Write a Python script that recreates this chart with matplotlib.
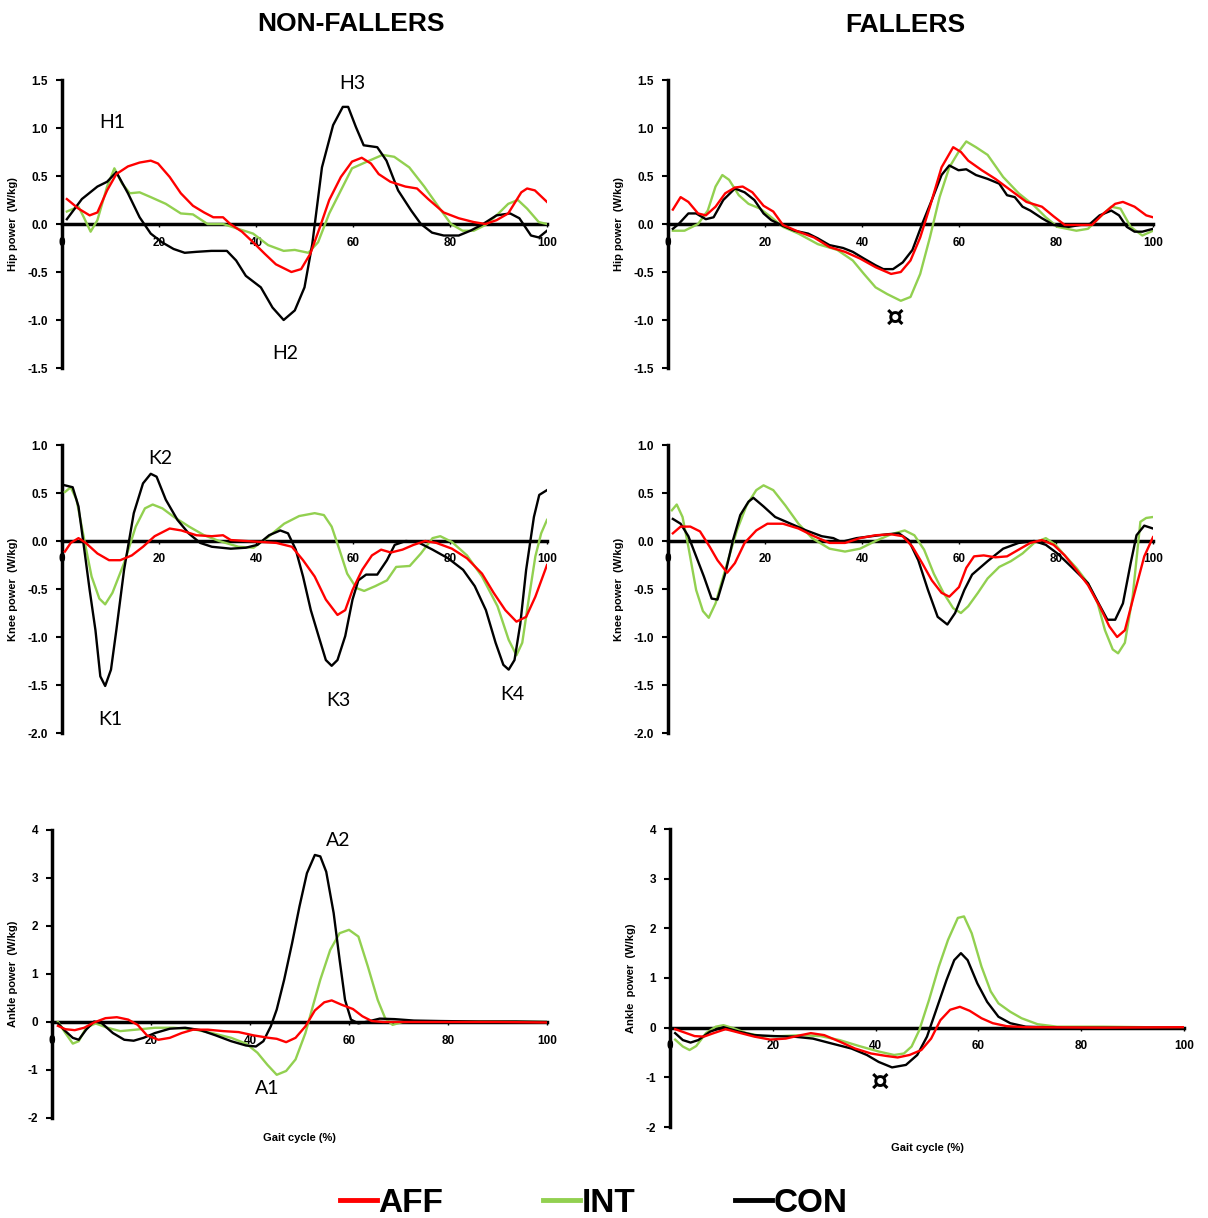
import matplotlib.pyplot as plt
from matplotlib.lines import Line2D

plt.rcParams["font.family"] = ["Liberation Sans", "DejaVu Sans"]

AFF_COLOR = "#FF0000"
INT_COLOR = "#92D050"
CON_COLOR = "#000000"

# ---- Hip power, non-fallers ----
nf_hip_con_x = [1, 4.1, 7.3, 9.3, 11.2, 13.6, 16, 18.3, 20.6, 23, 25.3, 27.7, 30.8, 34, 35.9, 37.9, 41,
                43.4, 45.7, 48, 50, 51.6, 53.6, 55.9, 57.9, 59, 60.6, 62.2, 65, 66.9, 69.3, 72, 74, 76.3,
                78.7, 81.8, 84.2, 86.5, 89.6, 92.4, 94.3, 96.7, 98.3, 100]
nf_hip_con = [0.05, 0.26, 0.39, 0.44, 0.54, 0.32, 0.07, -0.10, -0.19, -0.26, -0.30, -0.29, -0.28, -0.28,
              -0.38, -0.54, -0.66, -0.87, -1.0, -0.90, -0.66, -0.21, 0.59, 1.03, 1.22, 1.22, 1.01, 0.82,
              0.80, 0.66, 0.35, 0.14, 0.0, -0.09, -0.12, -0.12, -0.07, -0.01, 0.09, 0.11, 0.06, -0.12,
              -0.14, -0.07]
nf_hip_aff_x = [1, 3.4, 5.7, 7.3, 9.3, 11.2, 13.6, 16, 18.3, 19.8, 22.2, 24.5, 27, 29.3, 31.2, 33.2, 34.7,
                37.1, 39.4, 41.8, 44.1, 47.3, 49.3, 51.2, 53.2, 55.1, 57.5, 59.8, 61.8, 63.7, 65.3, 67.7,
                70.8, 73.2, 75.5, 78.7, 81.8, 84.9, 87.3, 89.6, 92, 94.7, 95.9, 97.5, 100]
nf_hip_aff = [0.26, 0.16, 0.09, 0.12, 0.35, 0.52, 0.60, 0.64, 0.66, 0.63, 0.49, 0.32, 0.19, 0.12, 0.07,
              0.07, 0.0, -0.08, -0.19, -0.31, -0.42, -0.50, -0.47, -0.31, -0.03, 0.25, 0.49, 0.65, 0.69,
              0.63, 0.52, 0.44, 0.39, 0.37, 0.26, 0.12, 0.06, 0.02, 0.0, 0.04, 0.11, 0.33, 0.37, 0.35, 0.23]
nf_hip_int_x = [1, 3.4, 4.5, 5.9, 7.3, 9.3, 10.8, 12.4, 14, 16, 18.3, 21.4, 24.5, 27, 30, 33.2, 36.3,
                39.4, 42.5, 45.7, 48, 50.8, 52.8, 55.1, 57.5, 59.8, 62.9, 66.1, 68.5, 71.6, 74.7, 77.9,
                80.2, 82.6, 84.9, 87.3, 89.6, 92, 94, 95.9, 98.3, 100]
nf_hip_int = [0.13, 0.18, 0.07, -0.08, 0.04, 0.39, 0.58, 0.42, 0.32, 0.33, 0.28, 0.21, 0.11, 0.10, 0.0,
              0.0, -0.05, -0.10, -0.22, -0.28, -0.27, -0.30, -0.19, 0.11, 0.35, 0.58, 0.65, 0.72, 0.70,
              0.59, 0.39, 0.16, 0.0, -0.07, -0.07, -0.01, 0.09, 0.21, 0.25, 0.16, 0.02, 0.0]

# ---- Hip power, fallers ----
f_hip_con_x = [1, 2.2, 4.2, 5.8, 7.8, 9.4, 11.4, 13.8, 15.8, 17.8, 19.7, 21.3, 23.7, 26.1, 28.9, 30.9,
               33.3, 36.1, 38.1, 40.4, 42.8, 44.4, 46.4, 48.4, 50.4, 52.4, 54.4, 56.4, 58, 59.9, 61.5,
               63.5, 65.9, 68.3, 69.9, 71.5, 73.1, 74.7, 77.1, 79.5, 82.6, 85, 87, 89, 91.4, 93, 94.6,
               96.2, 97.8, 100]
f_hip_con = [-0.05, 0.0, 0.11, 0.11, 0.05, 0.07, 0.25, 0.37, 0.33, 0.25, 0.11, 0.04, -0.02, -0.07, -0.10,
             -0.15, -0.22, -0.25, -0.29, -0.36, -0.43, -0.47, -0.47, -0.40, -0.27, 0.0, 0.25, 0.51, 0.61,
             0.56, 0.57, 0.51, 0.47, 0.42, 0.30, 0.28, 0.18, 0.14, 0.06, -0.01, -0.03, -0.01, 0.0, 0.09,
             0.14, 0.09, -0.03, -0.08, -0.08, -0.05]
f_hip_aff_x = [1, 2.6, 4.2, 6.2, 7.8, 9.8, 11.8, 13.8, 15.4, 17.4, 19.7, 21.7, 23.7, 26.9, 30.1, 33.3,
               36.5, 39.6, 42.8, 46, 48, 50, 52, 54, 56.4, 58.8, 60.4, 61.9, 64.7, 67.5, 70.7, 73.9,
               77.1, 79.5, 81.8, 84.2, 87.4, 89.8, 92.2, 93.8, 96.2, 98.6, 100]
f_hip_aff = [0.15, 0.28, 0.23, 0.11, 0.09, 0.18, 0.32, 0.38, 0.39, 0.33, 0.19, 0.13, -0.01, -0.08, -0.14,
             -0.24, -0.29, -0.36, -0.45, -0.52, -0.50, -0.38, -0.14, 0.18, 0.59, 0.80, 0.75, 0.66, 0.56,
             0.47, 0.35, 0.23, 0.18, 0.08, -0.01, -0.01, -0.01, 0.11, 0.21, 0.23, 0.18, 0.09, 0.07]
f_hip_int_x = [1, 3.4, 6.2, 8.2, 9.8, 11.2, 12.6, 14.6, 16.6, 19, 21.3, 23.7, 26.9, 30.9, 34.9, 38.1,
               40.4, 42.8, 45.2, 48, 50, 52, 54, 56, 58, 59.9, 61.5, 63.5, 65.9, 69.1, 72.3, 75.5, 77.9,
               80.3, 84.2, 86.6, 89, 91.4, 93.3, 95.4, 97.8, 100]
f_hip_int = [-0.07, -0.07, 0.0, 0.14, 0.39, 0.51, 0.46, 0.30, 0.21, 0.16, 0.07, -0.03, -0.10, -0.21,
             -0.27, -0.38, -0.52, -0.66, -0.73, -0.80, -0.76, -0.52, -0.14, 0.28, 0.59, 0.75, 0.86, 0.80,
             0.72, 0.49, 0.32, 0.19, 0.07, -0.03, -0.07, -0.05, 0.07, 0.18, 0.16, -0.03, -0.12, -0.07]

# ---- Knee power, non-fallers ----
nf_knee_con_x = [0.6, 2.2, 3.4, 4.6, 5.7, 6.9, 7.9, 8.9, 10.1, 11.2, 12.8, 14.8, 16.7, 18.3, 19.5, 21.4,
                 23.8, 26.1, 28.5, 30.9, 34.8, 37.9, 40.3, 42.7, 45, 46.6, 48.2, 49.7, 51.3, 52.9, 54.4,
                 55.6, 56.8, 58.4, 59.9, 61.1, 62.7, 65, 67, 68.6, 70.9, 73.3, 76.4, 79.6, 82.7, 85.1,
                 87.4, 89.4, 91, 92.1, 93.3, 94.5, 95.7, 97.3, 98.4, 100]
nf_knee_con = [0.58, 0.56, 0.36, -0.09, -0.51, -0.93, -1.41, -1.51, -1.34, -0.93, -0.30, 0.29, 0.60, 0.70,
               0.67, 0.43, 0.22, 0.08, -0.02, -0.06, -0.08, -0.07, -0.04, 0.06, 0.11, 0.08, -0.09, -0.37,
               -0.72, -0.99, -1.24, -1.30, -1.24, -0.99, -0.61, -0.41, -0.35, -0.35, -0.20, -0.04, 0.0,
               -0.01, -0.09, -0.18, -0.30, -0.47, -0.72, -1.06, -1.29, -1.34, -1.24, -0.86, -0.30, 0.25,
               0.48, 0.53]
nf_knee_aff_x = [0.6, 1.8, 3.4, 4.9, 7.3, 9.7, 12, 14.4, 16.7, 19.1, 22.2, 24.6, 27.7, 30.9, 33.2, 34.8,
                 37.9, 41.1, 44.2, 47.4, 49.7, 52.1, 54.4, 56.8, 58.4, 59.9, 61.9, 63.9, 65.8, 67.8, 70.2,
                 72.5, 74.9, 77.2, 80.4, 83.5, 86.6, 89, 91.4, 93.7, 95.7, 97.6, 100]
nf_knee_aff = [-0.11, -0.02, 0.03, -0.02, -0.13, -0.20, -0.20, -0.15, -0.06, 0.05, 0.13, 0.11, 0.06, 0.05,
               0.06, 0.01, 0.0, -0.01, -0.02, -0.06, -0.20, -0.37, -0.61, -0.77, -0.72, -0.51, -0.30,
               -0.15, -0.09, -0.12, -0.09, -0.04, 0.0, -0.02, -0.08, -0.18, -0.34, -0.54, -0.72, -0.84,
               -0.79, -0.58, -0.25]
nf_knee_int_x = [0.6, 1.8, 3, 4.6, 6.1, 7.7, 8.9, 10.4, 12.8, 15.2, 17.1, 18.7, 20.7, 23.1, 26.2, 29.3,
                 32.4, 36.4, 39.5, 42.7, 45.8, 48.9, 52.1, 54, 55.6, 57.2, 58.8, 60.7, 62.3, 64.6, 67,
                 68.9, 71.7, 74, 76.4, 78, 80.4, 83.5, 86.6, 89.8, 92.1, 93.7, 94.9, 96.1, 97.6, 98.8, 100]
nf_knee_int = [0.51, 0.56, 0.43, 0.01, -0.37, -0.60, -0.66, -0.54, -0.23, 0.15, 0.34, 0.38, 0.34, 0.25,
               0.15, 0.06, 0.0, -0.06, -0.07, 0.05, 0.18, 0.26, 0.29, 0.27, 0.15, -0.09, -0.34, -0.49,
               -0.52, -0.47, -0.41, -0.27, -0.26, -0.13, 0.03, 0.05, -0.01, -0.15, -0.37, -0.68, -1.03,
               -1.19, -1.06, -0.65, -0.16, 0.08, 0.22]

# ---- Knee power, fallers ----
f_knee_con_x = [1, 2.6, 4.2, 5.8, 7.4, 9, 10.2, 11.8, 13.4, 14.9, 16.6, 17.6, 19.7, 22.1, 25.3, 28.5,
                31.7, 34.1, 35.7, 38.9, 42, 45.2, 47.6, 49.6, 51.6, 53.6, 55.6, 57.6, 59.2, 61.1, 62.7,
                65.9, 69.1, 72.3, 75.5, 77.9, 80.3, 83.4, 86.6, 89, 90.6, 92.2, 93.8, 95.4, 96.6, 98.2, 100]
f_knee_con = [0.23, 0.18, 0.05, -0.16, -0.37, -0.60, -0.61, -0.34, 0.01, 0.27, 0.41, 0.45, 0.36, 0.25,
              0.18, 0.11, 0.05, 0.03, -0.01, 0.03, 0.05, 0.07, 0.08, 0.01, -0.20, -0.51, -0.79, -0.87,
              -0.75, -0.51, -0.35, -0.21, -0.08, -0.02, 0.0, -0.04, -0.13, -0.28, -0.44, -0.67, -0.82,
              -0.82, -0.65, -0.23, 0.06, 0.16, 0.13]
f_knee_aff_x = [1, 2.6, 4.6, 6.6, 8.6, 10.2, 12.2, 13.8, 15.8, 18.2, 20.5, 23.7, 26.9, 30.1, 33.3, 36.5,
                39.6, 42.8, 46, 48.4, 50.4, 52.4, 54.4, 56.4, 58, 60, 61.5, 63.1, 65.1, 67.5, 69.9, 72.3,
                74.7, 77.1, 79.5, 81.8, 84.2, 86.6, 89, 91, 92.6, 94.2, 96.2, 98.2, 100]
f_knee_aff = [0.08, 0.15, 0.15, 0.10, -0.06, -0.20, -0.33, -0.23, -0.02, 0.11, 0.18, 0.18, 0.13, 0.05,
              -0.02, -0.02, 0.03, 0.06, 0.07, 0.05, -0.06, -0.23, -0.41, -0.54, -0.58, -0.48, -0.28,
              -0.16, -0.15, -0.17, -0.16, -0.09, -0.02, 0.01, -0.04, -0.15, -0.30, -0.46, -0.68, -0.89,
              -1.00, -0.93, -0.54, -0.16, 0.04]
f_knee_int_x = [0.8, 1.8, 3, 4.2, 5.8, 7.2, 8.4, 9.8, 11.8, 14.2, 16.2, 18.2, 19.7, 21.7, 24.2, 26.9,
                29.7, 33.3, 36.5, 39.6, 42.8, 46, 48.8, 50.8, 52.8, 54.8, 56.8, 58.8, 60.4, 61.9, 63.9,
                65.9, 68.3, 70.7, 73.1, 75.5, 77.9, 79.9, 81.8, 84.2, 86.6, 88.6, 90.1, 91.7, 92.8, 94.2,
                95.8, 97.4, 98.6, 100]
f_knee_int = [0.32, 0.38, 0.25, -0.06, -0.51, -0.73, -0.80, -0.65, -0.30, 0.11, 0.37, 0.53, 0.58, 0.53,
              0.37, 0.18, 0.03, -0.08, -0.11, -0.08, 0.0, 0.07, 0.11, 0.06, -0.09, -0.34, -0.54, -0.70,
              -0.75, -0.68, -0.54, -0.39, -0.27, -0.21, -0.13, -0.02, 0.03, -0.04, -0.15, -0.28, -0.44,
              -0.65, -0.93, -1.13, -1.17, -1.06, -0.58, 0.20, 0.24, 0.25]

# ---- Ankle power, non-fallers ----
nf_ank_con_x = [1.2, 2.7, 4.2, 5.4, 6.9, 8.5, 10, 12.3, 14.6, 16.5, 18.5, 20.8, 23.8, 26.9, 30, 33.1,
                36.2, 39.2, 41.2, 42.7, 44.2, 45.4, 46.9, 48.5, 50, 51.5, 53.1, 54.2, 55.4, 56.9, 58.1,
                59.2, 60.4, 61.9, 63.8, 66.2, 69.2, 73.1, 78.5, 86.2, 93.8, 100]
nf_ank_con = [-0.03, -0.19, -0.33, -0.37, -0.16, 0.01, -0.02, -0.23, -0.37, -0.39, -0.33, -0.23, -0.14,
              -0.12, -0.17, -0.28, -0.40, -0.49, -0.51, -0.40, -0.09, 0.26, 0.88, 1.64, 2.41, 3.10, 3.48,
              3.45, 3.13, 2.27, 1.30, 0.46, 0.05, -0.03, 0.01, 0.07, 0.06, 0.03, 0.02, 0.01, 0.01, 0.0]
nf_ank_aff_x = [1.2, 2.7, 4.6, 6.5, 8.5, 10.8, 13.1, 15.4, 17.3, 19.2, 21.5, 23.8, 26.2, 28.5, 31.5, 34.6,
                37.7, 40.8, 43.8, 45.4, 47.3, 49.2, 51.2, 53.1, 55, 56.5, 58.5, 60.8, 62.7, 64.6, 66.9,
                74.6, 82.3, 90, 100]
nf_ank_aff = [-0.08, -0.15, -0.17, -0.12, -0.01, 0.08, 0.10, 0.05, -0.06, -0.28, -0.37, -0.33, -0.23,
              -0.16, -0.16, -0.19, -0.21, -0.28, -0.33, -0.35, -0.42, -0.33, -0.09, 0.24, 0.41, 0.45,
              0.36, 0.27, 0.12, 0.02, 0.0, 0.0, 0.0, 0.0, -0.01]
nf_ank_int_x = [1.2, 2.7, 4.2, 5.4, 6.9, 8.8, 11.2, 13.8, 16.9, 20.8, 24.6, 28.5, 32.3, 36.2, 39.2, 41.5,
                43.5, 45.4, 47.3, 49.2, 51.2, 52.7, 54.2, 56.2, 58.1, 60, 61.9, 63.8, 65.8, 67.3, 68.8,
                70.8, 74.6, 82.3, 90, 100]
nf_ank_int = [0.0, -0.23, -0.45, -0.40, -0.12, -0.03, -0.12, -0.19, -0.16, -0.12, -0.12, -0.15, -0.23,
              -0.33, -0.45, -0.64, -0.89, -1.10, -1.02, -0.78, -0.23, 0.33, 0.88, 1.50, 1.85, 1.92, 1.78,
              1.16, 0.46, 0.08, -0.06, 0.0, 0.01, 0.01, 0.01, 0.0]

# ---- Ankle power, fallers ----
f_ank_con_x = [1, 2.5, 4, 5.5, 7.8, 10.4, 13.4, 16.4, 20.2, 24, 27.8, 31.5, 35.3, 38.3, 40.6, 43.2, 45.9,
               48.1, 50, 51.9, 53.8, 55.3, 56.6, 57.9, 59.8, 61.7, 63.9, 66.2, 69.2, 76.8, 100]
f_ank_con = [-0.11, -0.25, -0.30, -0.25, -0.08, 0.01, -0.08, -0.15, -0.17, -0.18, -0.22, -0.32, -0.42,
             -0.55, -0.69, -0.80, -0.75, -0.55, -0.18, 0.39, 0.96, 1.36, 1.50, 1.36, 0.89, 0.52, 0.22,
             0.09, 0.02, 0.0, 0.0]
f_ank_aff_x = [1, 2.9, 4.8, 6.6, 8.5, 10.8, 13.4, 16.4, 19.5, 22.5, 25.5, 27.4, 30, 33, 36, 39.1, 42.1,
               44.3, 46.6, 48.9, 50.8, 52.6, 54.5, 56.4, 58.3, 60.6, 62.8, 65.5, 69.2, 84.3, 100]
f_ank_aff = [-0.03, -0.10, -0.17, -0.18, -0.11, -0.03, -0.10, -0.18, -0.24, -0.22, -0.15, -0.11, -0.15,
             -0.28, -0.42, -0.52, -0.57, -0.60, -0.55, -0.45, -0.22, 0.15, 0.36, 0.42, 0.34, 0.19, 0.09,
             0.03, 0.01, 0.0, 0.01]
f_ank_int_x = [1, 2.5, 3.8, 5.1, 7, 8.9, 10.4, 12.3, 14.9, 17.9, 21.7, 25.5, 29.3, 33, 36.8, 40.6, 43.6,
               45.5, 47, 48.5, 50.4, 52.3, 54.1, 56, 57.2, 58.7, 60.6, 62.4, 63.9, 66.2, 68.4, 71.5,
               75.3, 84.3, 100]
f_ank_int = [-0.24, -0.38, -0.45, -0.37, -0.11, 0.02, 0.05, -0.01, -0.11, -0.17, -0.17, -0.15, -0.17,
             -0.25, -0.37, -0.48, -0.55, -0.52, -0.38, -0.05, 0.56, 1.23, 1.77, 2.21, 2.24, 1.90, 1.23,
             0.73, 0.49, 0.32, 0.19, 0.07, 0.02, 0.02, 0.0]

x_ticks = [0, 20, 40, 60, 80, 100]
hip_ticks = [-1.5, -1.0, -0.5, 0.0, 0.5, 1.0, 1.5]
knee_ticks = [-2.0, -1.5, -1.0, -0.5, 0.0, 0.5, 1.0]
ankle_ticks = [-2, -1, 0, 1, 2, 3, 4]

W, H = 1208, 1218
fig = plt.figure(figsize=(W / 100, H / 100), dpi=100)


def make_axes(left, right, top, bottom):
    # pixel box -> figure fraction
    return fig.add_axes([left / W, 1 - bottom / H, (right - left) / W, (bottom - top) / H])


def style_axes(ax, yticks, fmt, ylabel, label_x):
    ax.set_xlim(0, 100)
    ax.set_ylim(yticks[0], yticks[-1])
    for side in ("top", "right"):
        ax.spines[side].set_visible(False)
    ax.spines["left"].set_linewidth(2.5)
    ax.spines["bottom"].set_position(("data", 0))
    ax.spines["bottom"].set_linewidth(2.5)
    ax.spines["bottom"].set_zorder(1)
    ax.set_xticks(x_ticks)
    ax.set_yticks(yticks)
    ax.set_yticklabels([fmt.format(v) for v in yticks])
    ax.tick_params(axis="y", direction="out", length=4, width=1.5, pad=6,
                   labelsize=8.5)
    ax.tick_params(axis="x", direction="out", length=2, width=1, pad=7,
                   labelsize=8.5)
    for lab in ax.get_xticklabels() + ax.get_yticklabels():
        lab.set_fontweight("bold")
    ax.set_ylabel(ylabel, fontsize=8, fontweight="bold")
    ax.yaxis.set_label_coords(label_x, 0.5)


def draw(ax, series):
    for xs, ys, color in series:
        ax.plot(xs, ys, color=color, lw=1.7, zorder=3, solid_joinstyle="round")


ax1 = make_axes(62, 547, 80, 368)
draw(ax1, [(nf_hip_int_x, nf_hip_int, INT_COLOR), (nf_hip_con_x, nf_hip_con, CON_COLOR),
           (nf_hip_aff_x, nf_hip_aff, AFF_COLOR)])
style_axes(ax1, hip_ticks, "{:.1f}", "Hip power  (W/kg)", -0.091)

ax2 = make_axes(668, 1153, 80, 368)
draw(ax2, [(f_hip_int_x, f_hip_int, INT_COLOR), (f_hip_con_x, f_hip_con, CON_COLOR),
           (f_hip_aff_x, f_hip_aff, AFF_COLOR)])
style_axes(ax2, hip_ticks, "{:.1f}", "Hip power  (W/kg)", -0.091)

ax3 = make_axes(62, 547, 445, 733)
draw(ax3, [(nf_knee_int_x, nf_knee_int, INT_COLOR), (nf_knee_con_x, nf_knee_con, CON_COLOR),
           (nf_knee_aff_x, nf_knee_aff, AFF_COLOR)])
style_axes(ax3, knee_ticks, "{:.1f}", "Knee power  (W/kg)", -0.091)

ax4 = make_axes(668, 1153, 445, 733)
draw(ax4, [(f_knee_int_x, f_knee_int, INT_COLOR), (f_knee_con_x, f_knee_con, CON_COLOR),
           (f_knee_aff_x, f_knee_aff, AFF_COLOR)])
style_axes(ax4, knee_ticks, "{:.1f}", "Knee power  (W/kg)", -0.091)

ax5 = make_axes(52, 547, 830, 1118)
draw(ax5, [(nf_ank_int_x, nf_ank_int, INT_COLOR), (nf_ank_con_x, nf_ank_con, CON_COLOR),
           (nf_ank_aff_x, nf_ank_aff, AFF_COLOR)])
style_axes(ax5, ankle_ticks, "{:d}", "Ankle power  (W/kg)", -0.069)

ax6 = make_axes(670, 1184, 829, 1127)
draw(ax6, [(f_ank_int_x, f_ank_int, INT_COLOR), (f_ank_con_x, f_ank_con, CON_COLOR),
           (f_ank_aff_x, f_ank_aff, AFF_COLOR)])
style_axes(ax6, ankle_ticks, "{:d}", "Ankle  power  (W/kg)", -0.066)

for ax in (ax5, ax6):
    ax.text(0.5, -0.07, "Gait cycle (%)", transform=ax.transAxes, ha="center", va="center",
            fontsize=8, fontweight="bold")

# peak labels
peak_font = dict(fontsize=14, family=["Lato", "DejaVu Sans"], ha="center", va="center")
ax1.text(10.3, 1.06, "H1", **peak_font)
ax1.text(59.8, 1.46, "H3", **peak_font)
ax1.text(46.0, -1.35, "H2", **peak_font)
ax3.text(20.2, 0.86, "K2", **peak_font)
ax3.text(9.9, -1.86, "K1", **peak_font)
ax3.text(56.9, -1.66, "K3", **peak_font)
ax3.text(92.8, -1.60, "K4", **peak_font)
ax5.text(57.8, 3.79, "A2", **peak_font)
ax5.text(43.4, -1.375, "A1", **peak_font)

# significance markers
ax2.text(46.8, -0.98, "¤", fontsize=21, fontweight="bold", ha="center", va="center",
         family="DejaVu Sans")
ax6.text(40.9, -1.09, "¤", fontsize=21, fontweight="bold", ha="center", va="center",
         family="DejaVu Sans")

fig.text(351 / W, 1 - 24 / H, "NON-FALLERS", fontsize=19, fontweight="bold", ha="center", va="center")
fig.text(905 / W, 1 - 25 / H, "FALLERS", fontsize=19, fontweight="bold", ha="center", va="center")

handles = [Line2D([], [], color=AFF_COLOR, lw=3.5),
           Line2D([], [], color=INT_COLOR, lw=3.5),
           Line2D([], [], color=CON_COLOR, lw=3.5)]
fig.legend(handles, ["AFF", "INT", "CON"], loc="center", bbox_to_anchor=(594 / W, 1 - 1203 / H),
           ncol=3, frameon=False, handlelength=1.1, handletextpad=0.05, columnspacing=3.0,
           prop=dict(size=24, weight="bold"))

fig.savefig("out.png", dpi=100)
